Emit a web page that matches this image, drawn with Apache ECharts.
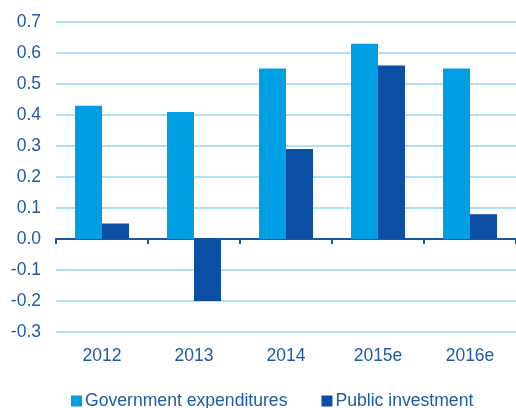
<!DOCTYPE html>
<html>
<head>
<meta charset="utf-8">
<script src="https://cdn.jsdelivr.net/npm/echarts@6/dist/echarts.min.js"></script>
<style>
  html, body { margin: 0; padding: 0; background: #fff; }
  #chart { width: 516px; height: 408px; }
</style>
</head>
<body>
<div id="chart"></div>
<script>
'use strict';
// data
const years = ['2012', '2013', '2014', '2015e', '2016e'];
const govExpenditures = [0.43, 0.41, 0.55, 0.63, 0.55];
const publicInvestment = [0.05, -0.20, 0.29, 0.56, 0.08];
const seriesNames = ['Government expenditures', 'Public investment'];

const TEXT = '#1f5aa8';
const FONT = 'Liberation Sans';

var myChart = echarts.init(document.getElementById('chart'));

var option = {
  animation: false,
  grid: { left: 56, right: 0, top: 22, bottom: 76 },
  legend: {
    left: 66,
    top: 387,
    itemWidth: 11,
    itemHeight: 11,
    itemGap: 34,
    icon: 'rect',
    textStyle: { color: TEXT, fontSize: 17.6, fontFamily: FONT, padding: [0, 0, 0, -2] },
    data: seriesNames
  },
  xAxis: [{
    // zero line with ticks, no labels
    type: 'category',
    data: years,
    axisLine: { onZero: true, lineStyle: { color: '#1a56a6', width: 2 } },
    axisTick: { show: true, length: 5, lineStyle: { color: '#1a56a6', width: 2 } },
    axisLabel: { show: false }
  }, {
    // labels along the bottom
    type: 'category',
    data: years,
    position: 'bottom',
    axisLine: { show: false, onZero: false },
    axisTick: { show: false },
    axisLabel: { color: TEXT, fontSize: 17.5, fontFamily: FONT, margin: 15 }
  }],
  yAxis: {
    type: 'value',
    min: -0.3,
    max: 0.7,
    interval: 0.1,
    axisLine: { show: false },
    axisTick: { show: false },
    splitLine: { lineStyle: { color: '#b0e0f5', width: 2 } },
    axisLabel: {
      color: TEXT, fontSize: 17.5, fontFamily: FONT, margin: 15,
      formatter: function (v) { return v.toFixed(1); }
    }
  },
  series: [{
    name: seriesNames[0],
    type: 'bar',
    data: govExpenditures,
    barWidth: 27,
    barGap: 0,
    itemStyle: { color: '#009fe3' }
  }, {
    name: seriesNames[1],
    type: 'bar',
    data: publicInvestment,
    barWidth: 27,
    barGap: 0,
    itemStyle: { color: '#0a4fa3' }
  }]
};

myChart.setOption(option);
</script>
</body>
</html>
